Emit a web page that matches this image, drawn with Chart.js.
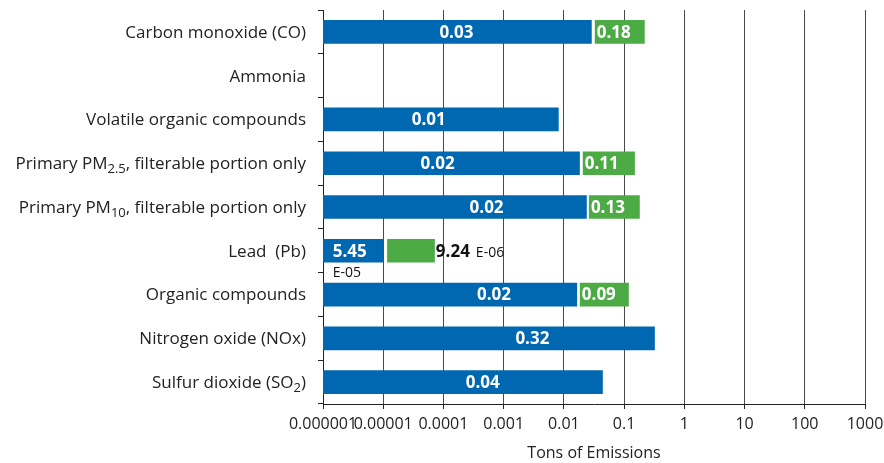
<!DOCTYPE html>
<html>
<head>
<meta charset="utf-8">
<script src="https://cdn.jsdelivr.net/npm/chart.js@4"></script>
<style>
  html, body { margin: 0; padding: 0; background: #fff; }
  #wrap { width: 884px; height: 463px; }
</style>
</head>
<body>
<div id="wrap"><canvas id="chart"></canvas></div>
<script>
// categories, top to bottom; _{...} marks a subscript
const categories = [
    'Carbon monoxide (CO)',
    'Ammonia',
    'Volatile organic compounds',
    'Primary PM_{2.5}, filterable portion only',
    'Primary PM_{10}, filterable portion only',
    'Lead  (Pb)',
    'Organic compounds',
    'Nitrogen oxide (NOx)',
    'Sulfur dioxide (SO_{2})'
];

// blue bars run from the axis minimum to these values
const blueValues = [0.029, null, 0.0082, 0.0184, 0.024, 1.02e-5, 0.0166, 0.324, 0.0443];
// green bars float between these values
const greenStart = [0.0326, null, null, 0.0206, 0.026, 1.16e-5, 0.0184, null, null];
const greenEnd   = [0.22,   null, null, 0.151,  0.182, 7.2e-5,  0.1197, null, null];

// printed labels
const blueLabels  = ['0.03', '', '0.01', '0.02', '0.02', '5.45', '0.02', '0.32', '0.04'];
const blueExp     = ['', '', '', '', '', 'E-05', '', '', ''];
const blueLabelAt = [1.64e-4, null, 5.7e-5, 8.0e-5, 5.2e-4, 2.78e-6, 6.9e-4, 3.0e-3, 4.5e-4];
const greenLabels = ['0.18', '', '', '0.11', '0.13', '9.24', '0.09', '', ''];
const greenExp    = ['', '', '', '', '', 'E-06', '', '', ''];

// x axis
const tickValues = [1e-6, 1e-5, 1e-4, 1e-3, 1e-2, 1e-1, 1, 10, 100, 1000];
const tickLabels = ['0.000001', '0.00001', '0.0001', '0.001', '0.01', '0.1', '1', '10', '100', '1000'];

const FONT = '"Open Sans", sans-serif';
const BLUE = '#0067b1';
const GREEN = '#4cab44';

function parseLabel(s) {
    return s.split(/_\{([^}]*)\}/).map((t, i) => ({ text: t, sub: i % 2 === 1 })).filter(p => p.text);
}

const categoryLabels = {
    id: 'categoryLabels',
    afterDraw(chart) {
        const ctx = chart.ctx;
        const ys = chart.scales.y;
        const xRight = ys.right - 17;
        ctx.save();
        ctx.fillStyle = '#222';
        ctx.textBaseline = 'middle';
        ctx.textAlign = 'left';
        categories.forEach((c, i) => {
            const y = ys.getPixelForValue(i) + 1;
            const parts = parseLabel(c);
            let total = 0;
            parts.forEach(p => {
                ctx.font = (p.sub ? '13px ' : '17px ') + FONT;
                p.w = ctx.measureText(p.text).width;
                total += p.w;
            });
            let x = xRight - total;
            parts.forEach(p => {
                ctx.font = (p.sub ? '13px ' : '17px ') + FONT;
                ctx.fillText(p.text, x, p.sub ? y + 5 : y);
                x += p.w;
            });
        });
        ctx.restore();
    }
};

const barLabels = {
    id: 'barLabels',
    afterDatasetsDraw(chart) {
        const ctx = chart.ctx;
        const xs = chart.scales.x, ys = chart.scales.y;
        ctx.save();
        ctx.textBaseline = 'middle';
        categories.forEach((c, i) => {
            const y = ys.getPixelForValue(i) + 1;
            if (blueLabels[i]) {
                const cx = xs.getPixelForValue(blueLabelAt[i]);
                ctx.font = 'bold 17px ' + FONT;
                ctx.fillStyle = '#fff';
                ctx.textAlign = 'center';
                ctx.fillText(blueLabels[i], cx, y);
                if (blueExp[i]) {
                    const w = ctx.measureText(blueLabels[i]).width;
                    ctx.font = '14px ' + FONT;
                    ctx.fillStyle = '#111';
                    ctx.textAlign = 'left';
                    ctx.fillText(blueExp[i], cx - w / 2, y + 21);
                }
            }
            if (greenLabels[i]) {
                ctx.font = 'bold 17px ' + FONT;
                ctx.textAlign = 'left';
                if (greenExp[i]) {
                    const x0 = xs.getPixelForValue(greenEnd[i]) + 1;
                    ctx.fillStyle = '#111';
                    ctx.fillText(greenLabels[i], x0, y);
                    const w = ctx.measureText(greenLabels[i]).width;
                    ctx.font = '14px ' + FONT;
                    ctx.fillText(greenExp[i], x0 + w + 6, y + 1);
                } else {
                    ctx.fillStyle = '#fff';
                    ctx.fillText(greenLabels[i], xs.getPixelForValue(greenStart[i]) + 2, y);
                }
            }
        });
        ctx.restore();
    }
};

new Chart(document.getElementById('chart'), {
    type: 'bar',
    data: {
        labels: categories,
        datasets: [
            {
                data: blueValues,
                backgroundColor: BLUE,
                grouped: false,
                barPercentage: 0.54,
                categoryPercentage: 1
            },
            {
                data: greenStart.map((s, i) => s === null ? null : [s, greenEnd[i]]),
                backgroundColor: GREEN,
                grouped: false,
                barPercentage: 0.54,
                categoryPercentage: 1
            }
        ]
    },
    options: {
        indexAxis: 'y',
        responsive: true,
        maintainAspectRatio: false,
        animation: false,
        layout: { padding: { top: 10, right: 19, left: 0, bottom: 0 } },
        plugins: {
            legend: { display: false },
            tooltip: { enabled: false }
        },
        scales: {
            x: {
                type: 'logarithmic',
                min: 1e-6,
                max: 1000,
                afterBuildTicks: scale => { scale.ticks = tickValues.map(v => ({ value: v })); },
                afterFit: scale => {
                    scale.height = 59;
                    scale.paddingLeft = 0;
                    scale.paddingRight = 0;
                },
                ticks: {
                    autoSkip: false,
                    maxRotation: 0,
                    color: '#222',
                    padding: 6,
                    font: { family: FONT, size: 16 },
                    callback: (v, i) => tickLabels[i]
                },
                grid: { color: '#4a4a4a', lineWidth: 1, tickLength: 5, tickColor: '#222' },
                border: { color: '#222', width: 1 },
                title: {
                    display: true,
                    text: 'Tons of Emissions',
                    color: '#222',
                    font: { family: FONT, size: 16 },
                    padding: { top: 6, bottom: 0 }
                }
            },
            y: {
                afterFit: scale => { scale.width = 323; },
                ticks: { display: false },
                grid: { offset: true, drawOnChartArea: false, tickLength: 5, color: '#222' },
                border: { color: '#222', width: 1 }
            }
        }
    },
    plugins: [categoryLabels, barLabels]
});
</script>
</body>
</html>
